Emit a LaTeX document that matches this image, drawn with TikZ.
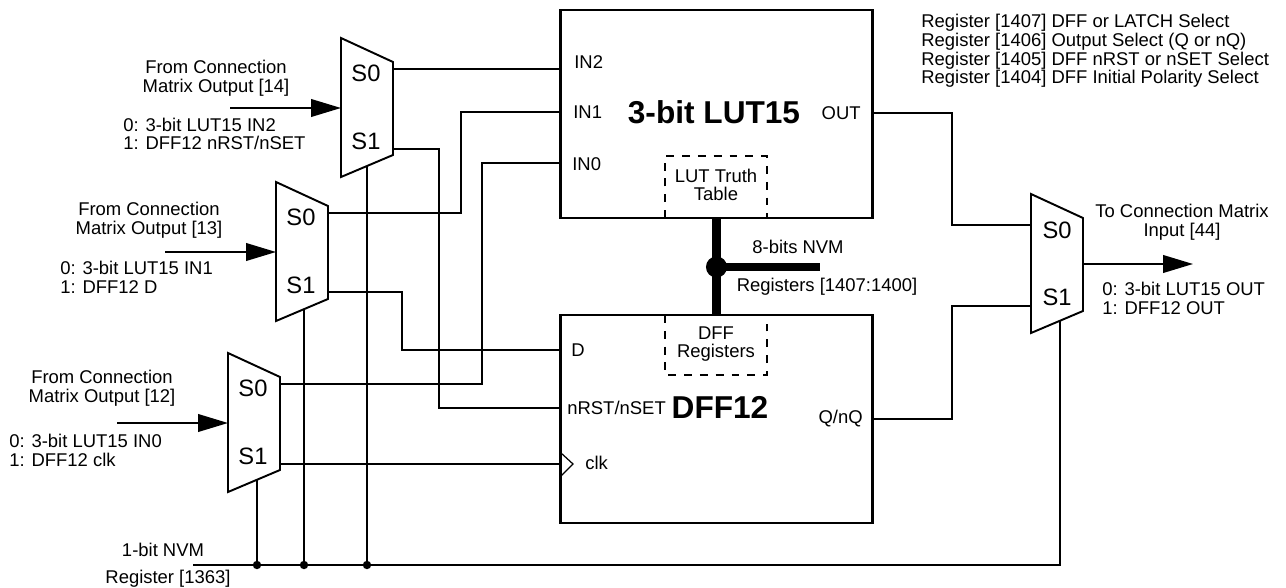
\documentclass[tikz,border=0pt]{standalone}
\usepackage{fontspec}
\setmainfont{Liberation Sans}
\usetikzlibrary{arrows.meta}

\begin{document}
\begin{tikzpicture}[x=0.02cm, y=-0.02cm,
    font=\fontsize{10.5}{10.6}\selectfont,
    wire/.style={line width=1.1pt},
    sig/.style={line width=1.1pt, -{Triangle[length=17pt, width=10pt]}},
    block/.style={draw, line width=1.3pt, minimum width=6.24cm, minimum height=4.16cm, inner sep=0pt},
    dashbox/.style={line width=1.1pt, dash pattern=on 4.5pt off 4.5pt},
    bus/.style={line width=4.6pt},
    muxlabel/.style={font=\fontsize{13.5}{14}\selectfont, inner sep=0pt},
    title/.style={font=\fontsize{18}{18}\selectfont\bfseries, inner sep=0pt},
    txt/.style={inner sep=0pt, align=left}]

        \useasboundingbox (0,0) rectangle (1286,588);

        % LUT15 and DFF12 blocks
        \node [block] (lut) at (716.5,114) {};
        \node [block] (dff) at (716.5,419) {};
        \node [title] (luttitle) at (714,112) {3-bit LUT15};
        \node [title] (dfftitle) at (720,407) {DFF12};

        \coordinate (lutin2) at (560,69);
        \coordinate (lutin1) at (560,112);
        \coordinate (lutin0) at (560,163);
        \coordinate (lutout) at (873,113);
        \coordinate (dffd) at (560,350);
        \coordinate (dffrst) at (560,408);
        \coordinate (dffclk) at (560,464);
        \coordinate (dffq) at (873,419);

        \node [txt, anchor=west] (in2lbl) at (574,62) {IN2};
        \node [txt, anchor=west] (in1lbl) at (573,112) {IN1};
        \node [txt, anchor=west] (in0lbl) at (572,164) {IN0};
        \node [txt, anchor=east] (outlbl) at (861,113) {OUT};
        \node [txt, anchor=west] (dlbl) at (571,350) {D};
        \node [txt, anchor=west] (rstlbl) at (567,408) {nRST/nSET};
        \node [txt, anchor=west] (clklbl) at (585,463) {clk};
        \node [txt, anchor=east] (qlbl) at (863,419) {Q/nQ};
        \draw [line width=0.7pt] (561,453) -- (573,464) -- (561,476);

        % Truth table and DFF registers
        \draw [dashbox] (665,218) |- (767,156) -- (767,218);
        \node [txt, align=center] (truth) at (716,185) {LUT Truth\\Table};
        \draw [dashbox] (665,315) |- (767,375) -- (767,315);
        \node [txt, align=center] (dffreg) at (716,344) {DFF\\Registers};

        % 8-bit NVM bus
        \coordinate (nvmjoint) at (716.5,267);
        \coordinate (nvmend) at (820,267);
        \draw [bus] (lut.south) -- (dff.north);
        \draw [bus] (nvmjoint) -- (nvmend);
        \fill (nvmjoint) circle [radius=6pt];
        \node [txt] (nvm8) at (798,247) {8-bits NVM};
        \node [txt] (nvmreg) at (827,287) {Registers [1407:1400]};

        % Mux 1
        \begin{scope}[shift={(341,38)}]
            \draw [wire] (0,0) -- (52,24) -- (52,117) -- (0,139) -- cycle;
            \node [muxlabel] (m1a) at (25,35) {S0};
            \node [muxlabel] (m1b) at (25,103) {S1};
            \coordinate (m1in) at (0,70);
            \coordinate (m1s0) at (52,31);
            \coordinate (m1s1) at (52,111);
            \coordinate (m1sel) at (26,128);
        \end{scope}
        \coordinate (from1) at (230,108);
        \draw [sig] (from1) -- (m1in);
        \node [txt, align=center] (src1) at (216,78) {From Connection\\Matrix Output [14]};
        \node [txt, anchor=west] (sel1) at (123,134) {0: 3-bit LUT15 IN2\\1: DFF12 nRST/nSET};

        % Mux 2
        \begin{scope}[shift={(276,182)}]
            \draw [wire] (0,0) -- (52,24) -- (52,117) -- (0,139) -- cycle;
            \node [muxlabel] (m2a) at (25,35) {S0};
            \node [muxlabel] (m2b) at (25,103) {S1};
            \coordinate (m2in) at (0,70);
            \coordinate (m2s0) at (52,31);
            \coordinate (m2s1) at (52,110);
            \coordinate (m2sel) at (28,127);
        \end{scope}
        \coordinate (from2) at (165,252);
        \draw [sig] (from2) -- (m2in);
        \node [txt, align=center] (src2) at (149,220) {From Connection\\Matrix Output [13]};
        \node [txt, anchor=west] (sel2) at (60,277.5) {0: 3-bit LUT15 IN1\\1: DFF12 D};

        % Mux 3
        \begin{scope}[shift={(228,353)}]
            \draw [wire] (0,0) -- (52,24) -- (52,117) -- (0,139) -- cycle;
            \node [muxlabel] (m3a) at (25,35) {S0};
            \node [muxlabel] (m3b) at (25,103) {S1};
            \coordinate (m3in) at (0,70);
            \coordinate (m3s0) at (52,31);
            \coordinate (m3s1) at (52,111);
            \coordinate (m3sel) at (29,127);
        \end{scope}
        \coordinate (from3) at (117,423);
        \draw [sig] (from3) -- (m3in);
        \node [txt, align=center] (src3) at (102,388.5) {From Connection\\Matrix Output [12]};
        \node [txt, anchor=west] (sel3) at (9,450.5) {0: 3-bit LUT15 IN0\\1: DFF12 clk};

        % Mux 4 and output
        \begin{scope}[shift={(1031,194)}]
            \draw [wire] (0,0) -- (52,24) -- (52,117) -- (0,139) -- cycle;
            \node [muxlabel] (m4a) at (26,36) {S0};
            \node [muxlabel] (m4b) at (26,103) {S1};
            \coordinate (m4s0) at (0,31);
            \coordinate (m4s1) at (0,112);
            \coordinate (m4out) at (52,70);
            \coordinate (m4sel) at (29,127);
        \end{scope}
        \coordinate (to44) at (1193,264);
        \draw [sig] (m4out) -- (to44);
        \node [txt, align=center] (dst) at (1182,222.5) {To Connection Matrix\\Input [44]};
        \node [txt, anchor=west] (sel4) at (1102,298.5) {0: 3-bit LUT15 OUT\\1: DFF12 OUT};

        % Wires into LUT15 and DFF12
        \draw [wire] (m1s0) -- (lutin2);
        \draw [wire] (m2s0) -- ++(133,0) |- (lutin1);
        \draw [wire] (m3s0) -- ++(202,0) |- (lutin0);
        \draw [wire] (m1s1) -- ++(46,0) |- (dffrst);
        \draw [wire] (m2s1) -- ++(74,0) |- (dffd);
        \draw [wire] (m3s1) -- (dffclk);
        \draw [wire] (lutout) -- ++(79,0) |- (m4s0);
        \draw [wire] (dffq) -- ++(79,0) |- (m4s1);

        % 1-bit NVM select line
        \coordinate (nvm1) at (193,565);
        \draw [wire] (nvm1) -| (m4sel);
        \draw [wire] (m1sel) -- (m1sel |- nvm1);
        \draw [wire] (m2sel) -- (m2sel |- nvm1);
        \draw [wire] (m3sel) -- (m3sel |- nvm1);
        \fill (m1sel |- nvm1) circle [radius=2.4pt];
        \fill (m2sel |- nvm1) circle [radius=2.4pt];
        \fill (m3sel |- nvm1) circle [radius=2.4pt];
        \node [txt] (nvmbit) at (163,550) {1-bit NVM};
        \node [txt] (nvmreg1) at (168,579) {Register [1363]};

        % Register notes
        \node [txt, anchor=west] (notes) at (921,51) {Register [1407] DFF or LATCH Select\\Register [1406] Output Select (Q or nQ)\\Register [1405] DFF nRST or nSET Select\\Register [1404] DFF Initial Polarity Select};
    \end{tikzpicture}
\end{document}
